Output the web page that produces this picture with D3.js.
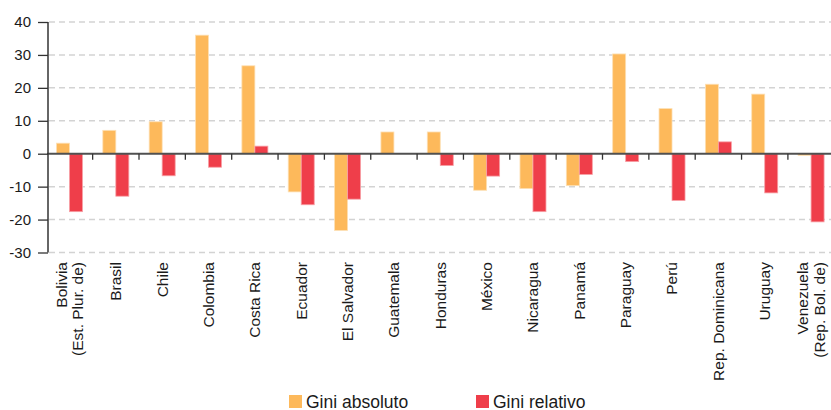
<!DOCTYPE html>
<html><head><meta charset="utf-8">
<script src="https://cdn.jsdelivr.net/npm/d3@7"></script>
<style>
body{margin:0;background:#fff;}
svg text{font-family:"Liberation Sans",Arial,sans-serif;fill:#1a1a1a;}
</style></head>
<body><svg id="c" width="831" height="410"></svg>
<script>
const categories = [
  ["Bolivia","(Est. Plur. de)"],["Brasil"],["Chile"],["Colombia"],["Costa Rica"],["Ecuador"],
  ["El Salvador"],["Guatemala"],["Honduras"],["México"],["Nicaragua"],["Panamá"],
  ["Paraguay"],["Perú"],["Rep. Dominicana"],["Uruguay"],["Venezuela","(Rep. Bol. de)"]
];
const giniAbsoluto = [3.2, 7.1, 9.7, 36.0, 26.7, -11.6, -23.3, 6.6, 6.6, -11.1, -10.6, -9.7, 30.3, 13.7, 21.1, 18.1, -0.5];
const giniRelativo = [-17.6, -12.9, -6.7, -4.1, 2.3, -15.5, -13.8, 0, -3.6, -6.8, -17.6, -6.3, -2.4, -14.2, 3.6, -11.9, -20.7];
const seriesNames = ["Gini absoluto", "Gini relativo"];
const seriesColors = ["#FDB95B", "#EF3E4A"];
const yTicks = [-30, -20, -10, 0, 10, 20, 30, 40];

const svg = d3.select("#c");
const keys = categories.map((c, i) => i);
const x = d3.scaleBand().domain(keys).range([46.3, 46.3 + 17 * 46.35]).padding(0);
const bw = x.bandwidth();
const x1 = d3.scaleBand().domain([0, 1]).range([bw / 2 - 13, bw / 2 + 13]).padding(0);
const y = d3.scaleLinear().domain([-30, 40]).range([252.5, 22]);

// gridlines
svg.append("g").selectAll("line").data(yTicks.filter(d => d !== 0)).join("line")
  .attr("x1", 49).attr("x2", 831).attr("y1", d => y(d)).attr("y2", d => y(d))
  .attr("stroke", "#d3d3d3").attr("stroke-width", 1.5).attr("stroke-dasharray", "6,4");

// bars
const rows = categories.map((c, i) => ({i, vals: [giniAbsoluto[i], giniRelativo[i]]}));
const g = svg.append("g").selectAll("g").data(rows).join("g")
  .attr("transform", d => `translate(${x(d.i)},0)`);
g.selectAll("rect").data(d => d.vals.map((v, s) => ({v, s}))).join("rect")
  .attr("x", d => x1(d.s)).attr("width", x1.bandwidth())
  .attr("y", d => y(Math.max(0, d.v))).attr("height", d => Math.abs(y(d.v) - y(0)))
  .attr("fill", d => seriesColors[d.s])
  .attr("stroke", d => d.s === 0 ? "#fde0b5" : "#f7a0a6").attr("stroke-width", 0.8);

// zero line with category ticks
svg.append("line").attr("x1", 47).attr("x2", 831).attr("y1", y(0)).attr("y2", y(0))
  .attr("stroke", "#505050").attr("stroke-width", 2);
svg.append("g").selectAll("line").data(keys.slice(1)).join("line")
  .attr("x1", d => x(d)).attr("x2", d => x(d)).attr("y1", y(0)).attr("y2", y(0) + 6)
  .attr("stroke", "#333").attr("stroke-width", 1.3);

// y axis
const yAxis = d3.axisLeft(y).tickValues(yTicks).tickSize(10).tickPadding(7).tickFormat(d => String(d));
const ya = svg.append("g").attr("transform", "translate(48,0)").call(yAxis);
ya.select(".domain").attr("stroke", "#333").attr("stroke-width", 1.5).attr("d", `M0,${y(40)}V${y(-30)}`);
ya.selectAll(".tick line").attr("stroke", "#333").attr("stroke-width", 1.3);
ya.selectAll(".tick text").attr("font-size", 15).attr("fill", "#1a1a1a")
  .style("font-family", '"Liberation Sans",Arial,sans-serif');

// category labels
const lab = svg.append("g").selectAll("text").data(rows).join("text")
  .attr("transform", d => `translate(${x(d.i) + bw / 2},262) rotate(-90)`)
  .attr("text-anchor", "end").attr("font-size", 15.5);
lab.each(function(d) {
  const lines = categories[d.i];
  const n = lines.length;
  d3.select(this).selectAll("tspan").data(lines).join("tspan")
    .attr("x", 0)
    .attr("dy", (t, k) => k === 0 ? (0.35 - (n - 1) * 0.5 * 1.05) + "em" : "1.05em")
    .text(t => t);
});

// legend
const legX = [289, 476];
const leg = svg.append("g").selectAll("g").data(seriesNames).join("g")
  .attr("transform", (d, i) => `translate(${legX[i]},395)`);
leg.append("rect").attr("width", 13).attr("height", 13).attr("fill", (d, i) => seriesColors[i]);
leg.append("text").attr("x", 17).attr("y", 12.5).attr("font-size", 17.5).text(d => d);
</script></body></html>
